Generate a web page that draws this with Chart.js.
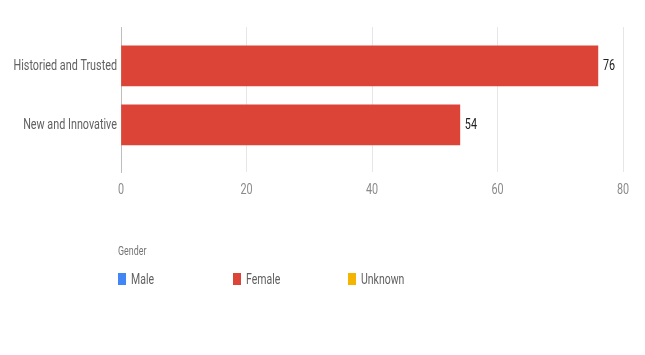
<!DOCTYPE html>
<html>
<head>
<meta charset="utf-8">
<script src="https://cdn.jsdelivr.net/npm/chart.js@4"></script>
<style>
  html, body { margin: 0; padding: 0; background: #fff; }
  #wrap { position: relative; width: 645px; height: 355px; }
  #legend { position: absolute; left: 118px; top: 0; font-family: 'Roboto', sans-serif; }
  #legend .title { position: absolute; top: 243px; left: 0; font-size: 12px; line-height: 16px; color: #757575;
                   transform: scaleX(0.74); transform-origin: left; white-space: nowrap; }
  #legend .item { position: absolute; top: 272px; height: 14px; white-space: nowrap; }
  #legend .box { position: absolute; left: 0; top: 1px; width: 8px; height: 12px; }
  #legend .label { position: absolute; left: 13px; top: -3px; font-size: 15px; line-height: 20px; color: #616161;
                   transform: scaleX(0.7); transform-origin: left; }
</style>
</head>
<body>
<div id="wrap">
  <canvas id="chart" width="645" height="355"></canvas>
  <div id="legend"></div>
</div>
<script>
// Chart data
const categories = ['Historied and Trusted', 'New and Innovative'];
const femaleValues = [76, 54];
const xTicks = [0, 20, 40, 60, 80];

// Legend
const legendTitle = 'Gender';
const legendLabels = ['Male', 'Female', 'Unknown'];
const legendColors = ['#4285f4', '#db4437', '#f4b400'];

const fontFamily = "'Roboto', sans-serif";
const squeeze = 0.72; // the reference uses a narrow font

function drawNarrow(ctx, text, px, py, align, color) {
    ctx.save();
    ctx.translate(px, py);
    ctx.scale(squeeze, 1);
    ctx.textAlign = align;
    ctx.textBaseline = 'middle';
    ctx.fillStyle = color;
    ctx.fillText(text, 0, 0);
    ctx.restore();
}

// axis tick labels and value labels in a narrow face
const narrowText = {
    id: 'narrowText',
    afterDraw(chart) {
        const ctx = chart.ctx;
        const xs = chart.scales.x;
        const ys = chart.scales.y;
        ctx.save();
        ctx.font = '15px ' + fontFamily;
        ys.ticks.forEach(t => {
            drawNarrow(ctx, categories[t.value], xs.left - 4, ys.getPixelForValue(t.value), 'right', '#616161');
        });
        xs.ticks.forEach(t => {
            drawNarrow(ctx, String(t.value), xs.getPixelForValue(t.value), xs.top + 18, 'center', '#8a8a8a');
        });
        chart.getDatasetMeta(0).data.forEach((bar, i) => {
            drawNarrow(ctx, String(femaleValues[i]), bar.x + 5, bar.y, 'left', '#212121');
        });
        ctx.restore();
    }
};

const ctx = document.getElementById('chart').getContext('2d');
new Chart(ctx, {
    type: 'bar',
    data: {
        datasets: [{
            label: 'Female',
            data: categories.map((c, i) => ({ x: femaleValues[i], y: i })),
            backgroundColor: '#db4437',
            barThickness: 40
        }]
    },
    options: {
        indexAxis: 'y',
        responsive: false,
        animation: false,
        layout: { padding: { left: 0, top: 27, right: 22, bottom: 153 } },
        plugins: {
            legend: { display: false },
            tooltip: { enabled: false }
        },
        scales: {
            x: {
                type: 'linear',
                min: 0,
                max: 80,
                afterBuildTicks: scale => { scale.ticks = xTicks.map(v => ({ value: v })); },
                afterFit: scale => { scale.height = 30; },
                grid: { color: '#e6e6e6', drawTicks: false },
                border: { display: false },
                ticks: { display: false }
            },
            y: {
                type: 'linear',
                reverse: true,
                offset: false,
                min: -0.66,
                max: 1.8,
                afterBuildTicks: scale => { scale.ticks = categories.map((c, i) => ({ value: i })); },
                afterFit: scale => { scale.width = 121; },
                grid: { display: false, drawTicks: false, offset: false },
                border: { display: true, color: '#bdbdbd', width: 1 },
                ticks: { display: false }
            }
        }
    },
    plugins: [narrowText]
});

// HTML legend
const legend = document.getElementById('legend');
legend.innerHTML = '<div class="title">' + legendTitle + '</div>';
legendLabels.forEach((name, i) => {
    const item = document.createElement('div');
    item.className = 'item';
    item.style.left = (i * 115) + 'px';
    item.innerHTML = '<span class="box" style="background:' + legendColors[i] + '"></span>' +
                     '<span class="label">' + name + '</span>';
    legend.appendChild(item);
});
</script>
</body>
</html>
